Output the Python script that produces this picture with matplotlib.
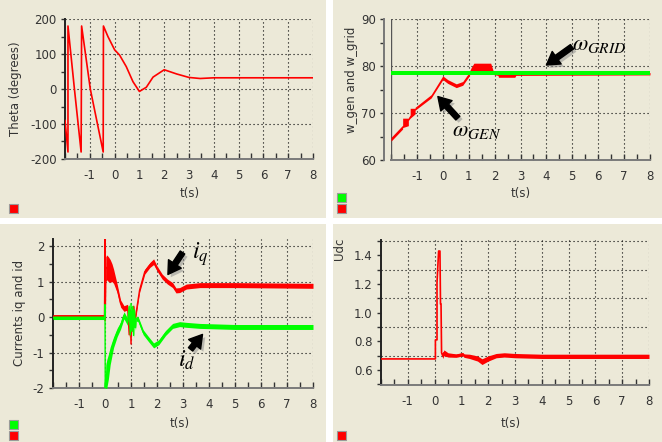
import matplotlib
matplotlib.use('Agg')
import matplotlib.pyplot as plt
import numpy as np
from matplotlib.patches import Rectangle
import matplotlib.patheffects as pe
from matplotlib.ticker import MultipleLocator, FixedLocator

# ---------------- data ----------------
x_ticks = [-1, 0, 1, 2, 3, 4, 5, 6, 7, 8]

# Panel 1: Theta (degrees)
theta_t = [-2.0, -1.88, -1.88, -1.62, -1.35, -1.33, -0.98, -0.46, -0.45, -0.27,
           0.0, 0.2, 0.47, 0.74, 1.0, 1.28, 1.55, 2.0, 2.5, 3.0, 3.45, 4.0, 8.0]
theta_v = [-90, -180, 180, 0, -180, 180, 0, -180, 180, 150,
           112, 97, 64, 21, -7, 5, 34, 55, 43, 33, 30, 32, 32]

# Panel 2: w_gen (band lo/hi) and w_grid
wgen_t = [-2.0, -1.55, -1.55, -1.33, -1.33, -1.26, -1.26, -1.07, -1.07, -0.45, 0.0,
          0.19, 0.52, 0.77, 1.0, 1.1, 1.2, 1.85, 1.95, 2.13, 2.15, 2.78, 2.82, 8.0]
wgen_lo = [64.0, 66.6, 66.9, 67.3, 68.4, 68.9, 68.9, 69.8, 70.6, 73.2, 77.1,
           76.3, 75.4, 75.9, 77.7, 78.9, 79.0, 79.0, 78.2, 78.0, 77.6, 77.6, 78.0, 78.1]
wgen_hi = [64.8, 67.4, 68.9, 68.9, 69.0, 69.6, 71.0, 71.0, 71.2, 73.9, 77.9,
           77.1, 76.2, 76.7, 78.5, 79.7, 80.6, 80.6, 78.9, 78.6, 78.6, 78.6, 78.6, 78.6]
wgrid_t = [-2.0, 8.0]
wgrid_v = [78.5, 78.5]
wgrid_noise = [0.42, 0.42]

# Panel 3: currents iq (red) and id (green)
iq_t = [-2, -0.02, 0.0, 0.01, 0.03, 0.07, 0.13, 0.2, 0.27, 0.33, 0.47, 0.6, 0.73,
        0.87, 0.93, 0.97, 1.0, 1.03, 1.07, 1.1, 1.13, 1.2, 1.33, 1.53, 1.73, 1.87,
        2.0, 2.2, 2.4, 2.6, 2.73, 2.87, 3.13, 3.65, 5, 8]
iq_v = [0.02, 0.02, 2.2, -0.1, 1.35, 1.4, 1.35, 1.3, 1.25, 1.15, 0.8, 0.38, 0.24,
        0.28, -0.5, 0.2, -0.76, 0.1, -0.4, 0.3, -0.2, 0.14, 0.76, 1.28, 1.47, 1.56,
        1.37, 1.14, 1.0, 0.9, 0.75, 0.76, 0.86, 0.9, 0.9, 0.88]
iq_noise = [0.05, 0.05, 0.0, 0.0, 0.35, 0.35, 0.35, 0.32, 0.25, 0.2, 0.12, 0.1, 0.08,
            0.08, 0.08, 0.08, 0.08, 0.08, 0.08, 0.08, 0.08, 0.08, 0.07, 0.07, 0.07, 0.08,
            0.07, 0.07, 0.07, 0.07, 0.07, 0.07, 0.07, 0.07, 0.07, 0.07]

id_t = [-2, -0.02, 0.0, 0.01, 0.03, 0.07, 0.13, 0.2, 0.33, 0.47, 0.6, 0.73, 0.87,
        0.93, 0.97, 1.0, 1.03, 1.07, 1.1, 1.13, 1.17, 1.2, 1.27, 1.47, 1.67, 1.87,
        2.07, 2.33, 2.6, 2.87, 3.13, 3.65, 5, 8]
id_v = [-0.02, -0.02, 0.35, -2.0, -1.7, -1.6, -1.4, -1.09, -0.71, -0.43, -0.24,
        0.05, -0.14, 0.3, -0.5, 0.38, -0.4, 0.3, -0.52, 0.2, -0.3, -0.05, -0.05,
        -0.43, -0.62, -0.8, -0.71, -0.45, -0.25, -0.2, -0.22, -0.25, -0.28, -0.28]
id_noise = [0.05, 0.05, 0.0, 0.0, 0.35, 0.4, 0.35, 0.25, 0.15, 0.12, 0.1, 0.1, 0.1,
            0.08, 0.08, 0.08, 0.08, 0.08, 0.08, 0.08, 0.08, 0.07, 0.07, 0.07, 0.07, 0.07,
            0.07, 0.07, 0.07, 0.07, 0.07, 0.07, 0.07, 0.07]

# Panel 4: Udc
udc_t = [-2.0, 0.03, 0.03, 0.09, 0.09, 0.15, 0.2, 0.22, 0.24, 0.26, 0.3, 0.35, 0.5,
         0.8, 1.05, 1.1, 1.3, 1.6, 1.77, 2.0, 2.3, 2.6, 3.0, 4.0, 8.0]
udc_v = [0.677, 0.677, 0.81, 0.81, 1.21, 1.43, 1.43, 1.06, 1.06, 0.72, 0.7, 0.72, 0.705,
         0.7, 0.71, 0.70, 0.695, 0.68, 0.658, 0.68, 0.70, 0.705, 0.70, 0.695, 0.695]
udc_noise = [0.0, 0.0, 0.0, 0.0, 0.0, 0.0, 0.0, 0.0, 0.0, 0.0, 0.02, 0.02, 0.015,
             0.012, 0.012, 0.012, 0.015, 0.018, 0.02, 0.018, 0.015, 0.015, 0.015, 0.015, 0.015]

# ---------------- style ----------------
W, H = 662, 442
BEIGE = '#ECE9D8'
RED = '#FF0000'
GREEN = '#00FF00'
TXT = '#333333'

plt.rcParams['font.family'] = ['DejaVu Sans']
plt.rcParams['axes.unicode_minus'] = False
plt.rcParams['mathtext.fontset'] = 'stix'

fig = plt.figure(figsize=(W / 100, H / 100), dpi=100, facecolor='white')


def frac(l, t, r, b):
    return [l / W, 1 - b / H, (r - l) / W, (b - t) / H]


for (l, t, r, b) in [(0, 0, 326, 218), (333, 0, 662, 218), (0, 224, 326, 442), (333, 224, 662, 442)]:
    fig.patches.append(Rectangle((l / W, 1 - b / H), (r - l) / W, (b - t) / H,
                                 transform=fig.transFigure, facecolor=BEIGE,
                                 edgecolor='none', zorder=-10))

DOT = (0, (1, 2.6))


def setup(ax, ylim, yticks, ylabels, yminor, ygrid):
    ax.set_facecolor('none')
    ax.set_xlim(-2, 8)
    ax.set_ylim(*ylim)
    for s in ['top', 'right']:
        ax.spines[s].set_visible(False)
    ax.spines['left'].set_color('#222222')
    ax.spines['left'].set_linewidth(1.4)
    ax.spines['bottom'].set_color('#7a7a7a')
    ax.spines['bottom'].set_linewidth(1.4)
    ax.xaxis.set_major_locator(FixedLocator(x_ticks))
    ax.set_xticklabels([str(v) for v in x_ticks])
    ax.xaxis.set_minor_locator(MultipleLocator(0.5))
    ax.yaxis.set_major_locator(FixedLocator(yticks))
    ax.set_yticklabels(ylabels)
    ax.yaxis.set_minor_locator(MultipleLocator(yminor))
    ax.tick_params(axis='x', which='both', direction='in', length=4, width=1,
                   color='#333333', labelsize=8.5, labelcolor=TXT, pad=7)
    ax.tick_params(axis='y', which='both', direction='out', length=3, width=1,
                   color='#333333', labelsize=8.5, labelcolor=TXT, pad=3)
    for xv in x_ticks:
        ax.axvline(xv, color='black', lw=0.8, ls=DOT, zorder=1)
    for yv in ygrid:
        ax.axhline(yv, color='black', lw=0.8, ls=DOT, zorder=1)


def arrow(ax, head, tail):
    a = ax.annotate('', xy=head, xytext=tail,
                    arrowprops=dict(arrowstyle='simple,head_length=0.7,head_width=0.85,tail_width=0.3',
                                    mutation_scale=13, color='black', shrinkA=0, shrinkB=0))
    a.arrow_patch.set_path_effects([pe.SimplePatchShadow(offset=(2, -2), shadow_rgbFace='#888888', alpha=0.5),
                                    pe.Normal()])


# Panel 1
ax1 = fig.add_axes(frac(65, 19, 313, 159))
setup(ax1, (-200, 200), [-200, -100, 0, 100, 200], ['-200', '-100', '0', '100', '200'], 50,
      [-100, 0, 100, 200])
ax1.plot(theta_t, theta_v, color=RED, lw=1.2, zorder=3)

# Panel 2
ax2 = fig.add_axes(frac(391, 19, 650, 160))
setup(ax2, (60, 90), [60, 70, 80, 90], ['60', '70', '80', '90'], 5, [70, 80, 90])
ax2.spines['left'].set_position(('outward', 5))
ax2.spines['left'].set_color('#777777')
ax2.axvline(-2, color='#555555', lw=1.0, zorder=2)
ax2.fill_between(wgen_t, wgen_lo, wgen_hi, color=RED, lw=0, zorder=3)
wg_v = np.array(wgrid_v)
wg_n = np.array(wgrid_noise)
ax2.fill_between(wgrid_t, wg_v - wg_n, wg_v + wg_n, color=GREEN, lw=0, zorder=4)
ax2.text(1.3, 66.2, r'$\omega_{GEN}$', fontsize=16, ha='center', va='center', color='black', zorder=6)
ax2.text(6.03, 84.5, r'$\omega_{GRID}$', fontsize=16, ha='center', va='center', color='black', zorder=6)
arrow(ax2, (-0.19, 73.5), (0.58, 68.9))
arrow(ax2, (4.0, 80.2), (4.99, 84.1))

# Panel 3
ax3 = fig.add_axes(frac(53, 239, 313, 388))
setup(ax3, (-2, 2.2), [-2, -1, 0, 1, 2], ['-2', '-1', '0', '1', '2'], 0.5, [-1, 0, 1, 2])
iqv = np.array(iq_v); iqn = np.array(iq_noise)
idv = np.array(id_v); idn = np.array(id_noise)
ax3.fill_between(iq_t, iqv - iqn, iqv + iqn, color=RED, lw=0, zorder=3)
ax3.plot(iq_t, iq_v, color=RED, lw=1.0, zorder=3)
ax3.fill_between(id_t, idv - idn, idv + idn, color=GREEN, lw=0, zorder=4)
ax3.plot(id_t, id_v, color=GREEN, lw=1.0, zorder=4)
ax3.text(3.67, 1.77, r'$i_q$', fontsize=17, ha='center', va='center', color='black', zorder=6)
ax3.text(3.13, -1.2, r'$i_d$', fontsize=17, ha='center', va='center', color='black', zorder=6)
arrow(ax3, (2.42, 1.2), (2.98, 1.82))
arrow(ax3, (3.75, -0.49), (3.29, -0.91))

# Panel 4
ax4 = fig.add_axes(frac(381, 240, 649, 385))
setup(ax4, (0.495, 1.507), [0.6, 0.8, 1.0, 1.2, 1.4], ['0.6', '0.8', '1.0', '1.2', '1.4'], 0.1,
      [0.7, 0.9, 1.1, 1.3, 1.5])
uv = np.array(udc_v); un = np.array(udc_noise)
ax4.fill_between(udc_t, uv - un, uv + un, color=RED, lw=0, zorder=3)
ax4.plot(udc_t, udc_v, color=RED, lw=1.2, zorder=3)

# axis titles
def ftext(x, y, s, **kw):
    fig.text(x / W, 1 - y / H, s, fontsize=8.5, color=TXT, ha='center', va='center', **kw)

ftext(16, 89, 'Theta (degrees)', rotation=90)
ftext(352, 80, 'w_gen and w_grid', rotation=90)
ftext(20, 313, 'Currents iq and id', rotation=90)
ftext(339, 249, 'Udc', rotation=90)
ftext(190, 194, 't(s)')
ftext(521, 194, 't(s)')
ftext(180, 423, 't(s)')
ftext(511, 423, 't(s)')

# legend squares
def square(l, t, c):
    fig.patches.append(Rectangle((l / W, 1 - (t + 9) / H), 9 / W, 9 / H, transform=fig.transFigure,
                                 facecolor=c, edgecolor='#9a9a9a', lw=0.8, zorder=5))

square(9, 204, RED)
square(337, 193, GREEN)
square(337, 204, RED)
square(9, 420, GREEN)
square(9, 431, RED)
square(337, 431, RED)

fig.savefig('out.png', dpi=100, facecolor='white')
